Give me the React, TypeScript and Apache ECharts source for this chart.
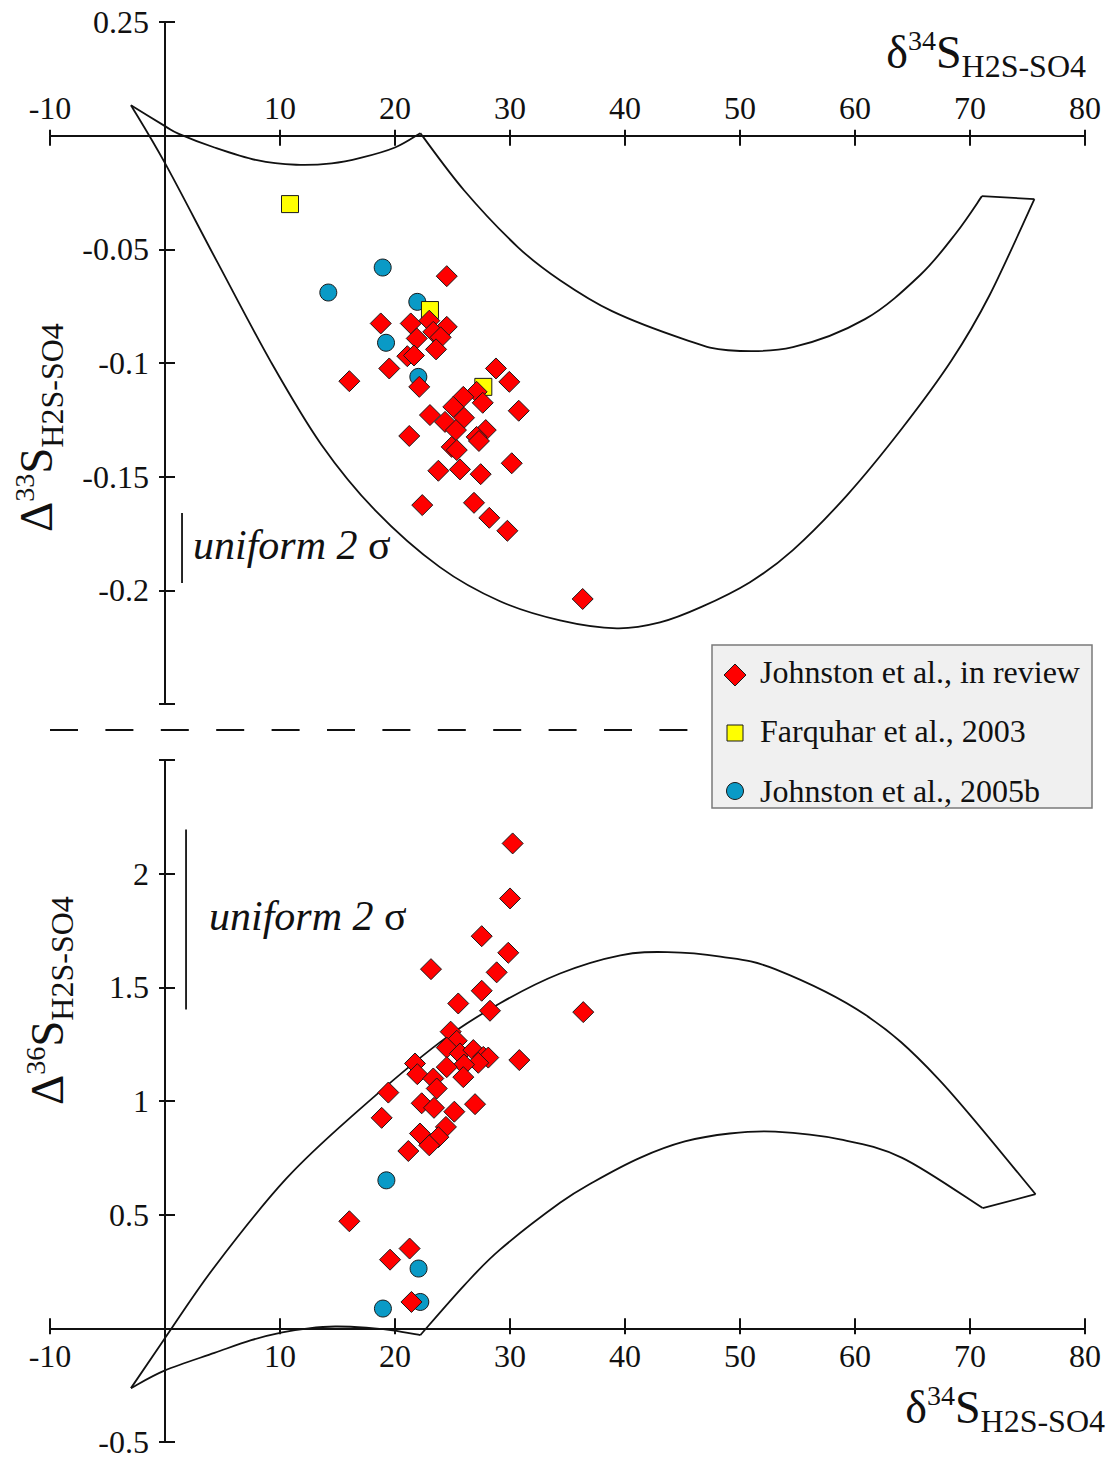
import React, { useEffect, useRef } from 'react';
import * as echarts from 'echarts';

const FONT = '"Liberation Serif", "Times New Roman", Times, serif';
const INK = '#111111';

// ---------- axis ranges / ticks / labels ----------
const xMin = -10;
const xMax = 80;
const topYMin = -0.25;
const topYMax = 0.05;
const botYMin = -0.5;
const botYMax = 2.5;
const xTickValues = [-10, 10, 20, 30, 40, 50, 60, 70, 80];
const xTickLabels = ['-10', '10', '20', '30', '40', '50', '60', '70', '80'];
const topYTickValues = [0.05, -0.05, -0.1, -0.15, -0.2];
const topYTickLabels = ['0.25', '-0.05', '-0.1', '-0.15', '-0.2'];
const botYTickValues = [2, 1.5, 1, 0.5, -0.5];
const botYTickLabels = ['2', '1.5', '1', '0.5', '-0.5'];

// ---------- legend ----------
const legendNames = ['Johnston et al., in review', 'Farquhar et al., 2003', 'Johnston et al., 2005b'];

// ---------- top panel: Δ33S vs δ34S ----------
const topRed: number[][] = [
  [24.50, -0.0618], [18.76, -0.0826], [21.37, -0.0826], [22.98, -0.0814], [24.50, -0.0841],
  [21.89, -0.0892], [23.33, -0.0863], [23.97, -0.0887], [23.57, -0.0940], [21.07, -0.0970],
  [21.65, -0.0967], [19.50, -0.1024], [16.03, -0.1080], [22.11, -0.1105], [28.78, -0.1024],
  [29.94, -0.1083], [27.10, -0.1127], [25.94, -0.1149], [27.63, -0.1175], [25.07, -0.1193],
  [30.76, -0.1210], [23.04, -0.1229], [26.00, -0.1241], [24.35, -0.1259], [25.30, -0.1295],
  [27.89, -0.1295], [27.10, -0.1325], [21.24, -0.1321], [24.93, -0.1369], [25.37, -0.1383],
  [27.30, -0.1343], [30.15, -0.1441], [23.77, -0.1474], [25.65, -0.1468], [27.45, -0.1489],
  [22.37, -0.1625], [26.87, -0.1615], [28.20, -0.1681], [29.77, -0.1738], [36.32, -0.2038],
];
const topYellow: number[][] = [[10.87, -0.0301], [23.04, -0.0767], [27.68, -0.1105]];
const topBlue: number[][] = [[18.93, -0.0580], [14.20, -0.0690], [21.94, -0.0731], [19.22, -0.0911], [22.03, -0.1061]];

// envelope of the top panel, in four pieces between its corners
const topEnvA: number[][] = [
  [-2.96, 0.0134], [0, 0.0042], [1.2, 0.0008], [4.3, -0.0052], [8, -0.0108], [11.4, -0.0128],
  [14.5, -0.0122], [17, -0.0098], [20, -0.0052], [22.2, 0.0011],
];
const topEnvB: number[][] = [
  [22.2, 0.0011], [26.0, -0.024], [30.7, -0.0491], [34.35, -0.0636], [38.87, -0.0772], [45.22, -0.0897],
  [48.96, -0.0944], [54.6, -0.0930], [60.87, -0.0807], [65.65, -0.0614], [68.78, -0.0429],
  [71.04, -0.0266],
];
const topEnvC: number[][] = [[71.04, -0.0266], [75.6, -0.0279]];
const topEnvD: number[][] = [
  [75.6, -0.0279], [71.7, -0.0702], [68.4, -0.0988], [64.1, -0.1287], [59.3, -0.1582], [54.6, -0.1823],
  [50.87, -0.1964], [46.6, -0.2074], [43.04, -0.2141], [39.3, -0.2167], [34.35, -0.2132], [29.13, -0.2048],
  [23.9, -0.1898], [18.26, -0.1647], [13.57, -0.1357], [9.22, -0.0996], [4.6, -0.0561], [0, -0.0121],
  [-2.96, 0.0134],
];
const topSigma: number[][] = [[1.48, -0.166], [1.48, -0.1968]];

// ---------- bottom panel: Δ36S vs δ34S ----------
const botRed: number[][] = [
  [30.23, 2.133], [30.00, 1.891], [27.54, 1.725], [23.13, 1.580], [29.85, 1.652], [28.84, 1.566],
  [27.54, 1.485], [25.50, 1.429], [28.26, 1.397], [36.37, 1.391], [24.84, 1.305], [25.37, 1.265],
  [24.50, 1.235], [25.65, 1.209], [26.81, 1.224], [27.68, 1.194], [28.11, 1.191], [27.24, 1.168],
  [26.00, 1.160], [24.50, 1.149], [21.74, 1.165], [21.94, 1.118], [25.94, 1.105], [23.33, 1.099],
  [23.63, 1.055], [30.81, 1.180], [19.42, 1.037], [22.32, 0.990], [23.39, 0.970], [26.96, 0.986],
  [25.16, 0.953], [18.84, 0.926], [24.43, 0.886], [22.17, 0.857], [23.77, 0.841], [22.98, 0.805],
  [21.16, 0.780], [16.03, 0.471], [19.57, 0.302], [21.27, 0.351], [21.43, 0.116],
];
const botBlue: number[][] = [[19.25, 0.651], [22.05, 0.263], [18.95, 0.087], [22.20, 0.116]];

// envelope of the bottom panel, in four pieces between its corners
const botEnvA: number[][] = [
  [-2.96, -0.263], [0, -0.185], [4.3, -0.108], [7.5, -0.052], [10.2, -0.018], [12.5, 0.0],
  [14.8, 0.008], [17.5, 0.003], [19.8, -0.009], [22.2, -0.03],
];
const botEnvB: number[][] = [
  [22.2, -0.03], [26.0, 0.188], [29.13, 0.346], [34.35, 0.552], [37.3, 0.645], [41.3, 0.75],
  [45.2, 0.822], [49.1, 0.857], [53.05, 0.865], [58.7, 0.831], [64.1, 0.75], [71.1, 0.529],
];
const botEnvC: number[][] = [[71.1, 0.529], [75.7, 0.59]];
const botEnvD: number[][] = [
  [75.7, 0.59], [67.2, 1.1], [60.87, 1.38], [53.05, 1.58], [48.3, 1.635], [43.7, 1.655],
  [39.6, 1.641], [34.35, 1.561], [29.13, 1.43], [23.9, 1.258], [16.7, 0.953], [10.52, 0.657],
  [4.3, 0.27], [0, -0.043], [-2.96, -0.263],
];
const botSigma: number[][] = [[1.83, 2.194], [1.83, 1.403]];

// ---------- layout ----------
const GRID_LEFT = 50;
const GRID_W = 1035;
const GRID_H = 682;
const TOP_GRID_TOP = 22;
const BOT_GRID_TOP = 760;

// ---------- helpers ----------
function lookup(values: number[], labels: string[], v: number): string {
  for (let i = 0; i < values.length; i++) {
    if (Math.abs(values[i] - v) < 1e-6) return labels[i];
  }
  return '';
}

let measureCtx: CanvasRenderingContext2D | null = null;
function measure(text: string, size: number, style = ''): number {
  if (!measureCtx) {
    const c = document.createElement('canvas');
    measureCtx = c.getContext('2d');
  }
  if (!measureCtx) return text.length * size * 0.5;
  measureCtx.font = `${style ? style + ' ' : ''}${size}px "Liberation Serif"`;
  return measureCtx.measureText(text).width;
}

type Part = { t: string; size: number; dy: number; style?: string };

function layoutParts(parts: Part[], startX: number, baseline: number) {
  let x = startX;
  const out: any[] = [];
  for (const p of parts) {
    out.push({
      type: 'text',
      x,
      y: baseline + p.dy - 0.3375 * p.size,
      silent: true,
      style: {
        text: p.t,
        fontSize: p.size,
        fontFamily: FONT,
        fontStyle: p.style || 'normal',
        fill: INK,
        align: 'left',
        verticalAlign: 'middle',
      },
    });
    x += measure(p.t, p.size, p.style || '');
  }
  return { elements: out, width: x - startX };
}

function partsWidth(parts: Part[]) {
  return parts.reduce((s, p) => s + measure(p.t, p.size, p.style || ''), 0);
}

function xTitle(rightX: number, baseline: number) {
  const parts: Part[] = [
    { t: 'δ', size: 46, dy: 0 },
    { t: '34', size: 28, dy: -18 },
    { t: 'S', size: 46, dy: 0 },
    { t: 'H2S-SO4', size: 32, dy: 9 },
  ];
  const w = partsWidth(parts);
  return layoutParts(parts, rightX - w, baseline).elements;
}

function yTitle(sup: string, startY: number, baselineX: number) {
  const parts: Part[] = [
    { t: 'Δ', size: 47, dy: 0 },
    { t: sup, size: 28, dy: -18 },
    { t: 'S', size: 47, dy: 0 },
    { t: 'H2S-SO4', size: 32, dy: 10.5 },
  ];
  return {
    type: 'group',
    x: 0,
    y: startY,
    rotation: Math.PI / 2,
    children: layoutParts(parts, 0, baselineX).elements,
  };
}

function sigmaText(x: number, baseline: number) {
  return layoutParts(
    [
      { t: 'uniform 2 ', size: 42, dy: 0, style: 'italic' },
      { t: 'σ', size: 42, dy: 0 },
    ],
    x,
    baseline
  ).elements;
}

const tickLine = { color: INK, width: 2 };

function zeroOffsetFromStart(min: number, max: number, size: number) {
  return ((0 - min) / (max - min)) * size;
}

function xAxes(gridIndex: number, position: 'top' | 'bottom', yMin: number, yMax: number) {
  const distFromEdge =
    position === 'top'
      ? ((yMax - 0) / (yMax - yMin)) * GRID_H
      : zeroOffsetFromStart(yMin, yMax, GRID_H);
  const base = {
    type: 'value',
    gridIndex,
    min: xMin,
    max: xMax,
    interval: 10,
    position,
    offset: -distFromEdge,
    splitLine: { show: false },
  };
  return [
    {
      ...base,
      axisLine: { show: true, onZero: false, lineStyle: { color: INK, width: 2 } },
      axisTick: { show: true, inside: false, length: 6, lineStyle: tickLine },
      axisLabel: {
        show: true,
        margin: 12,
        fontFamily: FONT,
        fontSize: 32,
        color: INK,
        formatter: (v: number) => lookup(xTickValues, xTickLabels, v),
      },
    },
    {
      ...base,
      axisLine: { show: false, onZero: false },
      axisTick: { show: true, inside: true, length: 10, lineStyle: tickLine },
      axisLabel: { show: false },
    },
  ];
}

function yAxes(gridIndex: number, min: number, max: number, interval: number, vals: number[], labs: string[]) {
  const distFromEdge = zeroOffsetFromStart(xMin, xMax, GRID_W);
  const base = {
    type: 'value',
    gridIndex,
    min,
    max,
    interval,
    position: 'left',
    offset: -distFromEdge,
    splitLine: { show: false },
  };
  return [
    {
      ...base,
      axisLine: { show: true, onZero: false, lineStyle: { color: INK, width: 2 } },
      axisTick: { show: true, inside: false, length: 6, lineStyle: tickLine },
      axisLabel: {
        show: true,
        margin: 16,
        fontFamily: FONT,
        fontSize: 32,
        color: INK,
        formatter: (v: number) => lookup(vals, labs, v),
      },
    },
    {
      ...base,
      axisLine: { show: false, onZero: false },
      axisTick: { show: true, inside: true, length: 10, lineStyle: tickLine },
      axisLabel: { show: false },
    },
  ];
}

// Catmull-Rom spline through pixel points, as an SVG path
function splinePath(pts: number[][]): string {
  if (pts.length < 2) return '';
  let d = `M${pts[0][0]},${pts[0][1]}`;
  if (pts.length === 2) return d + ` L${pts[1][0]},${pts[1][1]}`;
  for (let i = 0; i < pts.length - 1; i++) {
    const p0 = pts[i - 1] || pts[i];
    const p1 = pts[i];
    const p2 = pts[i + 1];
    const p3 = pts[i + 2] || pts[i + 1];
    const c1x = p1[0] + (p2[0] - p0[0]) / 6;
    const c1y = p1[1] + (p2[1] - p0[1]) / 6;
    const c2x = p2[0] - (p3[0] - p1[0]) / 6;
    const c2y = p2[1] - (p3[1] - p1[1]) / 6;
    d += ` C${c1x},${c1y} ${c2x},${c2y} ${p2[0]},${p2[1]}`;
  }
  return d;
}

function envCurve(data: number[][], xi: number, yi: number) {
  return {
    type: 'custom',
    xAxisIndex: xi,
    yAxisIndex: yi,
    data,
    silent: true,
    clip: false,
    encode: { x: 0, y: 1 },
    z: 2,
    renderItem: (params: any, api: any) => {
      if (params.dataIndex !== 0) return null;
      const pts = data.map((d) => api.coord(d));
      return {
        type: 'path',
        shape: { pathData: splinePath(pts) },
        style: { fill: 'none', stroke: INK, lineWidth: 1.8 },
      };
    },
  };
}

function scatter(name: string, data: number[][], xi: number, yi: number, kind: 'red' | 'yellow' | 'blue') {
  const cfg =
    kind === 'red'
      ? { symbol: 'diamond', size: 21, color: '#ff0000' }
      : kind === 'yellow'
      ? { symbol: 'rect', size: 17, color: '#ffff00' }
      : { symbol: 'circle', size: 17, color: '#0a9ac6' };
  return {
    type: 'scatter',
    name,
    xAxisIndex: xi,
    yAxisIndex: yi,
    data,
    symbol: cfg.symbol,
    symbolSize: cfg.size,
    itemStyle: { color: cfg.color, borderColor: '#1a1a1a', borderWidth: 1, opacity: 1 },
    z: 3,
  };
}

function buildOption() {
  const legendX = 712;
  const legendY = 645;
  const graphic: any[] = [
    {
      type: 'line',
      silent: true,
      shape: { x1: 50, y1: 730, x2: 693, y2: 730 },
      style: { stroke: INK, lineWidth: 2, lineDash: [28, 27.4] },
    },
    {
      type: 'rect',
      silent: true,
      shape: { x: legendX, y: legendY, width: 380, height: 163 },
      style: { fill: '#f0f0f0', stroke: '#7a7a7a', lineWidth: 1.5 },
    },
    {
      type: 'polygon',
      silent: true,
      shape: { points: [[735, 664], [746, 675], [735, 686], [724, 675]] },
      style: { fill: '#ff0000', stroke: '#1a1a1a', lineWidth: 1 },
    },
    {
      type: 'rect',
      silent: true,
      shape: { x: 727, y: 725, width: 16, height: 16 },
      style: { fill: '#ffff00', stroke: '#1a1a1a', lineWidth: 1 },
    },
    {
      type: 'circle',
      silent: true,
      shape: { cx: 735, cy: 791, r: 8.5 },
      style: { fill: '#0a9ac6', stroke: '#1a1a1a', lineWidth: 1 },
    },
    ...layoutParts([{ t: legendNames[0], size: 32, dy: 0 }], 760, 683).elements,
    ...layoutParts([{ t: legendNames[1], size: 32, dy: 0 }], 760, 742).elements,
    ...layoutParts([{ t: legendNames[2], size: 32, dy: 0 }], 760, 802).elements,
    ...xTitle(1086, 68),
    ...xTitle(1105, 1423),
    yTitle('33', 532, 52),
    yTitle('36', 1105, 62.5),
    ...sigmaText(193, 559),
    ...sigmaText(209, 930),
  ];

  return {
    animation: false,
    backgroundColor: '#ffffff',
    grid: [
      { left: GRID_LEFT, top: TOP_GRID_TOP, width: GRID_W, height: GRID_H, containLabel: false, outerBoundsMode: 'none' },
      { left: GRID_LEFT, top: BOT_GRID_TOP, width: GRID_W, height: GRID_H, containLabel: false, outerBoundsMode: 'none' },
    ],
    xAxis: [...xAxes(0, 'top', topYMin, topYMax), ...xAxes(1, 'bottom', botYMin, botYMax)],
    yAxis: [
      ...yAxes(0, topYMin, topYMax, 0.05, topYTickValues, topYTickLabels),
      ...yAxes(1, botYMin, botYMax, 0.5, botYTickValues, botYTickLabels),
    ],
    series: [
      envCurve(topEnvA, 0, 0),
      envCurve(topEnvB, 0, 0),
      envCurve(topEnvC, 0, 0),
      envCurve(topEnvD, 0, 0),
      envCurve(topSigma, 0, 0),
      envCurve(botEnvA, 2, 2),
      envCurve(botEnvB, 2, 2),
      envCurve(botEnvC, 2, 2),
      envCurve(botEnvD, 2, 2),
      envCurve(botSigma, 2, 2),
      scatter(legendNames[2], topBlue, 0, 0, 'blue'),
      scatter(legendNames[1], topYellow, 0, 0, 'yellow'),
      scatter(legendNames[0], topRed, 0, 0, 'red'),
      scatter(legendNames[2], botBlue, 2, 2, 'blue'),
      scatter(legendNames[0], botRed, 2, 2, 'red'),
    ],
    graphic: { elements: graphic },
  };
}

export default function App() {
  const ref = useRef<HTMLDivElement>(null);
  useEffect(() => {
    if (!ref.current) return;
    const chart = echarts.init(ref.current, null, { renderer: 'svg' });
    chart.setOption(buildOption() as any);
    return () => chart.dispose();
  }, []);
  return (
    <div
      ref={ref}
      style={{ position: 'absolute', left: 0, top: 0, width: 1107, height: 1460, background: '#ffffff' }}
    />
  );
}
